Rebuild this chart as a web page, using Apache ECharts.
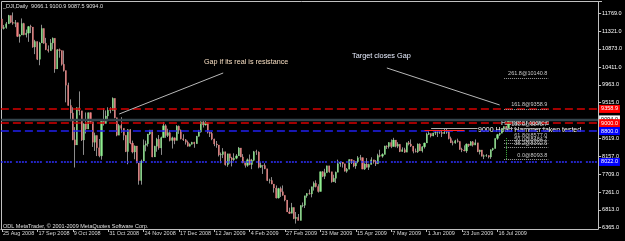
<!DOCTYPE html>
<html>
<head>
<meta charset="utf-8">
<script src="https://cdn.jsdelivr.net/npm/echarts@6/dist/echarts.min.js"></script>
<style>
html, body { margin: 0; padding: 0; background: #000; }
#main { width: 625px; height: 241px; }
</style>
</head>
<body>
<div id="main"></div>
<script>
// _DJI daily, 25 Aug 2008 .. 24 Jul 2009 : [open, high, low, close]
const ohlc = [
  [11628,11628,11370,11386],[11386,11475,11361,11413],[11413,11550,11380,11503],[11503,11730,11503,11715],
  [11715,11715,11520,11544],[11544,11790,11480,11517],[11517,11600,11420,11533],[11533,11533,11170,11188],
  [11188,11250,11030,11221],[11221,11640,11221,11511],[11511,11530,11215,11231],[11231,11360,11160,11269],
  [11269,11450,11050,11434],[11434,11480,11270,11422],[11422,11422,10900,10918],[10918,11100,10740,11059],
  [11059,11059,10590,10610],[10610,11050,10460,11020],[11020,11480,11020,11388],[11388,11390,11000,11016],
  [11016,11150,10840,10854],[10854,10960,10780,10825],[10825,11120,10825,11022],[11022,11160,10860,11143],
  [11143,11143,10270,10365],[10365,10870,10365,10851],[10851,10880,10650,10831],[10831,10831,10450,10483],
  [10483,10830,10300,10325],[10325,10325,9525,9956],[9956,10020,9440,9447],[9447,9600,9050,9258],
  [9258,9400,8570,8579],[8579,8900,7882,8451],[8451,9400,8451,9388],[9388,9800,9200,9311],
  [9311,9311,8550,8578],[8578,9000,8200,8979],[8979,9270,8740,8852],[8852,9270,8850,9265],
  [9265,9270,8990,9034],[9034,9034,8400,8519],[8519,8760,8300,8691],[8691,8691,8170,8379],
  [8379,8600,8140,8176],[8176,9070,8080,9065],[9065,9380,8940,8991],[8991,9320,8990,9181],
  [9181,9400,9050,9325],[9325,9400,9250,9320],[9320,9650,9320,9625],[9625,9625,9120,9139],
  [9139,9139,8670,8696],[8696,8980,8696,8944],[8944,9150,8760,8871],[8871,8871,8570,8694],
  [8694,8694,8270,8283],[8283,8850,7965,8835],[8835,8850,8470,8497],[8497,8560,8240,8274],
  [8274,8440,8090,8425],[8425,8425,7990,7997],[7997,7997,7449,7552],[7552,8080,7450,8046],
  [8046,8590,8046,8443],[8443,8560,8290,8479],[8479,8730,8410,8727],[8727,8830,8700,8829],
  [8829,8829,8140,8149],[8149,8430,8149,8419],[8419,8630,8280,8592],[8592,8700,8330,8376],
  [8376,8660,8200,8635],[8635,9030,8635,8934],[8934,8970,8630,8691],[8691,8860,8650,8761],
  [8761,8820,8540,8565],[8565,8660,8360,8630],[8630,8640,8470,8565],[8565,8950,8565,8924],
  [8924,8940,8730,8824],[8824,8840,8590,8605],[8605,8720,8550,8579],[8579,8600,8460,8520],
  [8520,8560,8410,8419],[8419,8490,8410,8468],[8468,8530,8460,8516],[8516,8530,8380,8484],
  [8484,8680,8480,8668],[8668,8830,8660,8776],[8776,9050,8760,9035],[9035,9090,8890,8953],
  [8953,9090,8940,9015],[9015,9015,8740,8770],[8770,8790,8650,8742],[8742,8780,8570,8599],
  [8599,8610,8420,8474],[8474,8550,8380,8449],[8449,8449,8160,8200],[8200,8260,7990,8212],
  [8212,8370,8120,8281],[8281,8281,7930,7949],[7949,8230,7900,8228],[8228,8228,7980,8123],
  [8123,8150,7910,8078],[8078,8240,8050,8116],[8116,8220,8090,8175],[8175,8400,8175,8375],
  [8375,8375,8140,8149],[8149,8220,7990,8001],[8001,8001,7880,7937],[7937,8110,7900,8078],
  [8078,8210,7940,7957],[7957,8100,7840,8063],[8063,8300,8040,8281],[8281,8330,8200,8271],
  [8271,8290,7860,7889],[7889,8010,7870,7940],[7940,7940,7720,7933],[7933,7990,7840,7850],
  [7850,7850,7540,7553],[7553,7600,7480,7556],[7556,7640,7460,7466],[7466,7466,7250,7366],
  [7366,7430,7100,7115],[7115,7370,7100,7351],[7351,7400,7140,7271],[7271,7430,7170,7182],
  [7182,7182,7030,7063],[7063,7063,6760,6763],[6763,6870,6710,6726],[6726,6990,6726,6876],
  [6876,6876,6580,6594],[6594,6760,6469,6627],[6627,6710,6547,6547],[6547,6930,6547,6926],
  [6926,7000,6880,6930],[6930,7170,6860,7170],[7170,7240,7120,7224],[7224,7330,7200,7217],
  [7217,7400,7130,7396],[7396,7530,7300,7487],[7487,7560,7380,7401],[7401,7460,7250,7278],
  [7278,7780,7278,7776],[7776,7790,7640,7660],[7660,7850,7590,7750],[7750,7930,7750,7925],
  [7925,7925,7750,7776],[7776,7776,7500,7522],[7522,7700,7520,7609],[7609,7780,7490,7762],
  [7762,8080,7762,7978],[7978,8030,7900,8018],[8018,8018,7880,7976],[7976,7976,7780,7790],
  [7790,7870,7750,7837],[7837,8090,7837,8083],[8083,8090,7970,8058],[8058,8058,7890,7920],
  [7920,8040,7850,8030],[8030,8170,7990,8125],[8125,8200,8060,8131],[8131,8131,7840,7842],
  [7842,7990,7820,7970],[7970,8120,7880,7887],[7887,7980,7820,7957],[7957,8140,7957,8076],
  [8076,8076,7980,8025],[8025,8070,7920,7976],[7976,8230,7976,8186],[8186,8330,8140,8168],
  [8168,8240,8130,8212],[8212,8430,8212,8427],[8427,8440,8350,8411],[8411,8520,8360,8512],
  [8512,8590,8370,8410],[8410,8630,8410,8575],[8575,8575,8390,8419],[8419,8520,8370,8469],
  [8469,8469,8270,8285],[8285,8390,8280,8331],[8331,8380,8250,8269],[8269,8510,8269,8504],
  [8504,8550,8440,8475],[8475,8590,8400,8422],[8422,8422,8240,8292],[8292,8360,8260,8277],
  [8277,8490,8250,8473],[8473,8490,8300,8300],[8300,8420,8260,8404],[8404,8510,8360,8500],
  [8500,8760,8500,8721],[8721,8800,8700,8741],[8741,8741,8640,8675],[8675,8760,8670,8750],
  [8750,8820,8700,8763],[8763,8800,8650,8764],[8764,8820,8730,8763],[8763,8830,8650,8739],
  [8739,8860,8730,8771],[8771,8877,8730,8799],[8799,8799,8590,8612],[8612,8660,8500,8505],
  [8505,8560,8440,8497],[8497,8580,8480,8556],[8556,8610,8510,8540],[8540,8540,8330,8339],
  [8339,8380,8270,8323],[8323,8440,8290,8300],[8300,8490,8250,8472],[8472,8480,8400,8438],
  [8438,8550,8438,8529],[8529,8550,8410,8447],[8447,8590,8447,8504],[8504,8504,8270,8281],
  [8281,8330,8210,8325],[8325,8325,8160,8164],[8164,8210,8094,8178],[8178,8220,8150,8183],
  [8183,8190,8110,8147],[8147,8340,8100,8332],[8332,8380,8300,8359],[8359,8620,8359,8616],
  [8616,8730,8580,8712],[8712,8760,8680,8744],[8744,8860,8744,8848],[8848,8920,8800,8916],
  [8916,8930,8830,8881],[8881,9090,8870,9069],[9066,9101,9010,9094]
];

// trading calendar
const startDate = '2008-08-25';
const holidays = ['2008-09-01','2008-11-27','2008-12-25','2009-01-01','2009-01-19','2009-02-16',
  '2009-04-10','2009-05-25','2009-07-03','2009-09-07'];
const slotCount = 270;          // bars + empty space on the right (chart shift)
const labelStep = 16;
const months = ['Jan','Feb','Mar','Apr','May','Jun','Jul','Aug','Sep','Oct','Nov','Dec'];

const yTicks = [6365, 6813, 7261, 7709, 8157, 8619, 9067, 9515, 9963, 10411, 10873, 11321, 11769];
const yMin = 6332, yMax = 12054;

// horizontal price lines [value, line colour, dash, width, label bg, label fg]
const hLines = [
  [9358.9, '#d80000', [8, 4], 1.5, '#ff0000', '#ffffff'],
  [9094.0, '#34444c', 'solid', 2.4, '#ffffff', '#000000'],
  [9000.0, '#d80000', [8, 4], 1.5, '#ff0000', '#ffffff'],
  [8800.0, '#2020f0', [8, 4], 1.5, '#0000ff', '#ffffff'],
  [8022.0, '#3030ff', [2, 1, 2, 1, 2, 1, 2, 4], 1.5, '#0000ff', '#ffffff']
];

// fibo levels [level, price]
const fibLevels = [
  ['0.0', 8093.8], ['38.2', 8392.5], ['50.0', 8484.7], ['61.8', 8577.0],
  ['100.0', 8875.7], ['161.8', 9358.9], ['261.8', 10140.8]
];
const fibFrom = 227, fibTo = 247;

// drawn segments [[idx, price], [idx, price], colour, dash]
const segments = [
  [[53, 9231], [100, 10265], '#b8b8b8', 'solid'],
  [[174, 10391], [225, 9458], '#b8b8b8', 'solid'],
  [[191, 8810], [209, 8810], '#ff2020', 'solid'],
  [[194, 8872], [215, 8872], '#b0b0b0', 'solid'],
  [[228, 8094], [228, 8640], '#40b040', [1, 1]]
];

const dates = [];
{
  const d = new Date(startDate + 'T00:00:00Z');
  while (dates.length < slotCount) {
    const wd = d.getUTCDay();
    const iso = d.toISOString().slice(0, 10);
    if (wd !== 0 && wd !== 6 && holidays.indexOf(iso) < 0) {
      dates.push(d.getUTCDate() + ' ' + months[d.getUTCMonth()] + ' ' + d.getUTCFullYear());
    }
    d.setUTCDate(d.getUTCDate() + 1);
  }
}

const wickData = ohlc.map(r => [r[0], r[3], r[2], r[1]]);
const bodyData = ohlc.map(r => [r[0], r[3], Math.min(r[0], r[3]), Math.max(r[0], r[3])]);

const showLabel = i => i % labelStep === 0 && i < ohlc.length;
const small = 'Liberation Sans';

// one empty line series per drawn object so each keeps its own colour
const hLineSeries = hLines.map(h => ({
  type: 'line', data: [], silent: true, color: h[1],
  itemStyle: { color: h[1] },
  lineStyle: { color: h[1] },
  markLine: {
    silent: true, symbol: 'none', animation: false,
    lineStyle: { color: h[1], type: h[2], width: h[3], opacity: 1 },
    label: {
      show: true, position: 'end', distance: 1, formatter: h[0].toFixed(1),
      backgroundColor: h[4], color: h[5], fontSize: 5.5, fontFamily: small, padding: [1, 2, 1, 2]
    },
    data: [{ yAxis: h[0], lineStyle: { color: h[1], type: h[2], width: h[3], opacity: 1 } }]
  }
}));

const fibSeries = {
  type: 'line', data: [], silent: true, color: '#a0a0a0',
  itemStyle: { color: '#a0a0a0' },
  lineStyle: { color: '#a0a0a0' },
  markLine: {
    silent: true, symbol: 'none', animation: false,
    lineStyle: { color: '#a0a0a0', type: [1, 1], width: 1 },
    label: { show: true, position: 'insideEndTop', distance: 1, color: '#c8c8c8', fontSize: 5.5, fontFamily: small,
             formatter: p => p.name },
    data: fibLevels.map(f => [
      { name: f[0] + '@' + f[1].toFixed(1), coord: [fibFrom, f[1]],
        lineStyle: { color: '#a0a0a0', type: [1, 1], width: 1 } },
      { coord: [fibTo, f[1]] }
    ])
  }
};

const segmentSeries = segments.map(s => ({
  type: 'line', data: [], silent: true, color: s[2],
  itemStyle: { color: s[2] },
  lineStyle: { color: s[2] },
  markLine: {
    silent: true, symbol: 'none', animation: false,
    lineStyle: { color: s[2], type: s[3], width: 1, opacity: 1 },
    label: { show: false },
    data: [[{ coord: s[0], lineStyle: { color: s[2], type: s[3], width: 1 } }, { coord: s[1] }]]
  }
}));

const chart = echarts.init(document.getElementById('main'), null, { renderer: 'canvas' });
chart.setOption({
  backgroundColor: '#000000',
  animation: false,
  grid: { left: -1, right: 23, top: 2, bottom: 12, containLabel: false },
  xAxis: {
    type: 'category',
    data: dates,
    boundaryGap: true,
    axisLine: { show: true, lineStyle: { color: '#c0c0c0', width: 1 } },
    axisTick: { show: true, interval: (i) => showLabel(i), alignWithLabel: true, length: 3,
                lineStyle: { color: '#c0c0c0' } },
    axisLabel: { interval: (i) => showLabel(i), align: 'left', margin: 1, color: '#d8d8d8',
                 fontSize: 5.5, fontFamily: small, padding: [0, 0, 0, 1] },
    splitLine: { show: false }
  },
  yAxis: {
    type: 'value',
    position: 'right',
    min: yMin,
    max: yMax,
    scale: true,
    axisLine: { show: true, lineStyle: { color: '#c0c0c0', width: 1 } },
    axisTick: { show: true, customValues: yTicks, length: 3, lineStyle: { color: '#c0c0c0' } },
    axisLabel: { customValues: yTicks, formatter: v => v.toFixed(1), color: '#ffffff',
                 fontSize: 5.5, fontFamily: small, margin: 4 },
    splitLine: { show: false }
  },
  series: [
    ...hLineSeries,
    fibSeries,
    ...segmentSeries,
    {
      name: 'wick', type: 'candlestick', data: wickData, barWidth: 0.4, silent: true,
      itemStyle: { color: '#8c8c8c', color0: '#8c8c8c', borderColor: '#8c8c8c', borderColor0: '#8c8c8c', borderWidth: 1 }
    },
    {
      name: 'body', type: 'candlestick', data: bodyData, barWidth: 1.6, silent: true,
      itemStyle: { color: '#90ee90', color0: '#f08080', borderColor: '#90ee90', borderColor0: '#f08080', borderWidth: 0.3 }
    }
  ],
  graphic: [
    { type: 'line', shape: { x1: 1.5, y1: 1.5, x2: 602, y2: 1.5 }, style: { stroke: '#c0c0c0', lineWidth: 1 } },
    { type: 'line', shape: { x1: 1.5, y1: 1.5, x2: 1.5, y2: 229 }, style: { stroke: '#c0c0c0', lineWidth: 1 } },
    { type: 'text', left: 3, top: 3, style: { text: '_DJI,Daily  9066.1 9100.9 9087.5 9094.0', fill: '#e0e0e0', font: '5.5px "Liberation Sans"' } },
    { type: 'text', left: 3, top: 223, style: { text: 'ODL MetaTrader, \u00a9 2001-2009 MetaQuotes Software Corp.', fill: '#e0e0e0', font: '5.5px "Liberation Sans"' } },
    { type: 'text', left: 204, top: 59, style: { text: 'Gap if its real is resistance', fill: '#f5dcc0', font: '7.2px "Liberation Sans"' } },
    { type: 'text', left: 352, top: 52, style: { text: 'Target closes Gap', fill: '#e8eeff', font: '7.3px "Liberation Sans"' } },
    { type: 'text', left: 501, top: 120, style: { text: 'Hammer tested', fill: '#ffffff', font: '7px "Liberation Sans"' } },
    { type: 'text', left: 478, top: 127, style: { text: '9000 Head Hammer taken tested', fill: '#ffffff', font: '7px "Liberation Sans"' } }
  ]
});
</script>
</body>
</html>
